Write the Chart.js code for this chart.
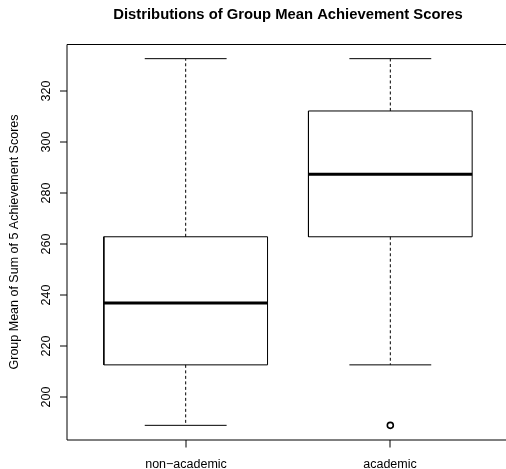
<!DOCTYPE html>
<html>
<head>
<meta charset="utf-8">
<script src="https://cdn.jsdelivr.net/npm/chart.js@4.4.1/dist/chart.umd.min.js"></script>
<style>
  html, body { margin: 0; padding: 0; background: #ffffff; overflow: hidden; }
  canvas { display: block; }
</style>
</head>
<body>
<!-- plot region runs slightly past the right edge of the window -->
<canvas id="c" width="509" height="469"></canvas>
<script>
// Five-number summaries per group
const categories   = ['non\u2212academic', 'academic'];
const lowerWhisker = [188.9, 212.6];
const lowerHinge   = [212.6, 262.8];
const medians      = [236.8, 287.3];
const upperHinge   = [262.8, 312.1];
const upperWhisker = [332.6, 332.6];
const outliers     = [[], [188.9]];
const yTicks       = [200, 220, 240, 260, 280, 300, 320];

const titleText = 'Distributions of Group Mean Achievement Scores';
const yTitle    = 'Group Mean of Sum of 5 Achievement Scores';

const FONT = "'Liberation Sans', Arial, Helvetica, sans-serif";
const BOX_HALF = 0.4;   // box half-width in category units
const CAP_HALF = 0.2;   // whisker cap half-width

// y range: data range padded by 4% on each side
const allVals = lowerWhisker.concat(upperWhisker, ...outliers);
const yLo = Math.min(...allVals), yHi = Math.max(...allVals);
const yPad = 0.04 * (yHi - yLo);
// x range: groups at 1..n, padded
const n = categories.length;
const xPad = 0.04 * n;

const gap = x => ({ x: x, y: null });

const boxPts = [], medPts = [], whiskPts = [], capPts = [], outPts = [];
categories.forEach((c, i) => {
  const x = i + 1;
  boxPts.push({ x: x - BOX_HALF, y: lowerHinge[i] }, { x: x + BOX_HALF, y: lowerHinge[i] },
              { x: x + BOX_HALF, y: upperHinge[i] }, { x: x - BOX_HALF, y: upperHinge[i] },
              { x: x - BOX_HALF, y: lowerHinge[i] }, gap(x));
  medPts.push({ x: x - BOX_HALF, y: medians[i] }, { x: x + BOX_HALF, y: medians[i] }, gap(x));
  whiskPts.push({ x: x, y: upperHinge[i] }, { x: x, y: upperWhisker[i] }, gap(x),
                { x: x, y: lowerHinge[i] }, { x: x, y: lowerWhisker[i] }, gap(x));
  capPts.push({ x: x - CAP_HALF, y: upperWhisker[i] }, { x: x + CAP_HALF, y: upperWhisker[i] }, gap(x),
              { x: x - CAP_HALF, y: lowerWhisker[i] }, { x: x + CAP_HALF, y: lowerWhisker[i] }, gap(x));
  outliers[i].forEach(v => outPts.push({ x: x, y: v }));
});

const lineDs = (data, width, dash) => ({
  data, showLine: true, spanGaps: false, borderColor: '#000000', borderWidth: width,
  borderDash: dash || [], pointRadius: 0, pointHoverRadius: 0, fill: false, tension: 0,
  borderJoinStyle: 'miter'
});

// Frame, axes, tick labels and axis titles
const axesPlugin = {
  id: 'baseAxes',
  afterDraw(chart) {
    const ctx = chart.ctx, a = chart.chartArea;
    const xs = chart.scales.x, ys = chart.scales.y;
    ctx.save();
    ctx.strokeStyle = '#000000';
    ctx.fillStyle = '#000000';
    ctx.lineWidth = 1;
    // frame
    ctx.beginPath();
    ctx.moveTo(a.right, a.top + 0.5);
    ctx.lineTo(a.left, a.top + 0.5);
    ctx.lineTo(a.left, a.bottom);
    ctx.lineTo(a.right, a.bottom);
    ctx.stroke();
    // y ticks
    ctx.font = '12.5px ' + FONT;
    ctx.textAlign = 'center';
    ctx.textBaseline = 'alphabetic';
    yTicks.forEach(t => {
      const py = Math.round(ys.getPixelForValue(t));
      ctx.beginPath();
      ctx.moveTo(a.left, py);
      ctx.lineTo(a.left - 7, py);
      ctx.stroke();
      ctx.save();
      ctx.translate(a.left - 17.5, py);
      ctx.rotate(-Math.PI / 2);
      ctx.fillText(String(t), 0, 0);
      ctx.restore();
    });
    // x ticks
    categories.forEach((c, i) => {
      const px = Math.round(xs.getPixelForValue(i + 1));
      ctx.beginPath();
      ctx.moveTo(px, a.bottom);
      ctx.lineTo(px, a.bottom + 7.5);
      ctx.stroke();
      ctx.fillText(c, px, a.bottom + 27.5);
    });
    // y axis title
    ctx.save();
    ctx.translate(18.3, (a.top + a.bottom) / 2);
    ctx.rotate(-Math.PI / 2);
    ctx.fillText(yTitle, 0, 0);
    ctx.restore();
    // main title
    ctx.font = 'bold 14.8px ' + FONT;
    ctx.fillText(titleText, (a.left + a.right) / 2, 19);
    ctx.restore();
  }
};

new Chart(document.getElementById('c'), {
  type: 'scatter',
  data: {
    datasets: [
      lineDs(boxPts, 1),
      lineDs(medPts, 3),
      lineDs(whiskPts, 1, [3, 2.5]),
      lineDs(capPts, 1),
      {
        data: outPts, showLine: false, pointStyle: 'circle', pointRadius: 3,
        pointHoverRadius: 3, pointBorderWidth: 1.6, pointBorderColor: '#000000',
        pointBackgroundColor: 'rgba(0,0,0,0)'
      }
    ]
  },
  options: {
    responsive: false,
    animation: false,
    events: [],
    layout: { autoPadding: false, padding: { left: 67, top: 44, right: 0, bottom: 29 } },
    plugins: { legend: { display: false }, tooltip: { enabled: false }, title: { display: false } },
    scales: {
      x: { type: 'linear', min: 0.5 - xPad, max: n + 0.5 + xPad, display: false },
      y: { type: 'linear', min: yLo - yPad, max: yHi + yPad, display: false }
    }
  },
  plugins: [axesPlugin]
});
</script>
</body>
</html>
